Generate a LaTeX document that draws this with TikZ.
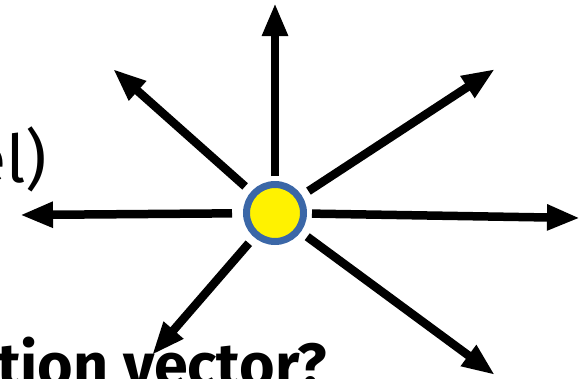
\documentclass[tikz,border=0pt]{standalone}
\usepackage{fontspec}
\setmainfont{Fira Sans}
\usetikzlibrary{arrows.meta}
\definecolor{ringblue}{RGB}{59,103,167}
\tikzset{
  source/.style={circle, draw=ringblue, fill=yellow, line width=7pt,
                 minimum size=57pt, inner sep=0pt},
  ray/.style={-{Triangle[length=33pt,width=24pt]}, line width=8.5pt, shorten <=8pt},
  sidetext/.style={font=\fontsize{66}{80}\selectfont, inner sep=0pt},
  asktext/.style={font=\fontsize{61}{72}\selectfont\bfseries, inner sep=0pt},
}

\begin{document}
\begin{tikzpicture}[x=1pt, y=-1pt]

  \useasboundingbox (0,0) rectangle (586,378);

  % =====================================================
  % TEXT
  % =====================================================

  \node[sidetext, anchor=base east] (side) at (47,182) {el)};

  \node[asktext, anchor=base west] (ask) at (-3,386) {tion vector?};

  % =====================================================
  % SOURCE AND RAY ENDS
  % =====================================================

  \node[source] (src) at (275,213) {};

  \coordinate (tipN)  at (275,3);
  \coordinate (tipNE) at (495,69);
  \coordinate (tipE)  at (580,218);
  \coordinate (tipSE) at (495,375);
  \coordinate (tipSW) at (152,355);
  \coordinate (tipW)  at (20,215);
  \coordinate (tipNW) at (113,69);

  % =====================================================
  % RAYS
  % =====================================================

  \draw[ray, shorten <=5pt] (src) -- (tipN);
  \draw[ray] (src) -- (tipNE);
  \draw[ray, shorten <=5pt] (src) -- (tipE);
  \draw[ray] (src) -- (tipSE);
  \draw[ray] (src) -- (tipSW);
  \draw[ray, shorten <=11pt] (src) -- (tipW);
  \draw[ray] (src) -- (tipNW);

\end{tikzpicture}
\end{document}
